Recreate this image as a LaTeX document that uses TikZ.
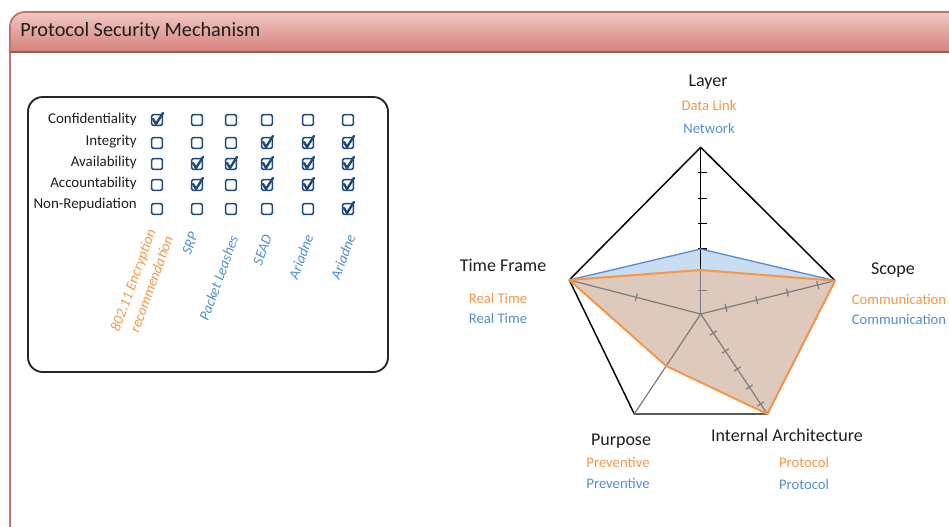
\documentclass[tikz,border=0pt]{standalone}
\usepackage{fontspec}
\setmainfont{Carlito}
\usetikzlibrary{calc}
\definecolor{orng}{RGB}{247,150,70}
\definecolor{bluet}{RGB}{85,142,213}
\definecolor{tanf}{RGB}{221,202,188}
\definecolor{bluef}{RGB}{200,220,242}
\definecolor{navy}{RGB}{31,73,125}
\definecolor{framered}{RGB}{200,110,105}
\definecolor{titletop}{RGB}{240,200,196}
\definecolor{titlebot}{RGB}{214,128,122}
\definecolor{axgray}{RGB}{125,125,125}
\definecolor{txt}{RGB}{30,30,30}
\tikzset{
  axlab/.style={font=\fontsize{13.5}{16}\selectfont, text=txt, inner sep=0pt},
  vallab/.style={font=\fontsize{11}{13}\selectfont, inner sep=0pt},
  rowlab/.style={font=\fontsize{11.2}{13}\selectfont, text=txt, anchor=east, inner sep=0pt},
  collab/.style={font=\fontsize{11}{14}\selectfont\itshape, anchor=east, rotate=70, inner sep=0pt, align=right},
  cbox/.style={draw=navy, line width=1.2pt, rounded corners=1pt, minimum size=8pt, inner sep=0pt},
  chk/.style={draw=navy, line width=1.8pt, line cap=round, line join=round},
  axline/.style={draw=axgray, line width=0.9pt},
  tickm/.style={line width=0.9pt},
}
\begin{document}
\begin{tikzpicture}[x=0.75pt,y=-0.75pt]
\useasboundingbox (0,0) rectangle (949,527);
% outer frame and title bar
\begin{scope}
  \clip[rounded corners=11pt] (10,12) rectangle (975,560);
  \shade[top color=titletop, bottom color=titlebot] (10,12) rectangle (975,52);
\end{scope}
\draw[framered, line width=1.3pt, rounded corners=11pt] (10,12) rectangle (975,560);
\draw[framered!80!black, line width=1pt] (10,52) -- (975,52);
\node[anchor=west, font=\fontsize{15.2}{18}\selectfont, text=txt, inner sep=0pt] (title) at (20,31) {Protocol Security Mechanism};

% left panel
\draw[line width=1.4pt, draw=black!85, rounded corners=11pt] (28,97) rectangle (388,372);
\node[rowlab] (r1) at (137,120) {Confidentiality};
\node[rowlab] (r2) at (137,142) {Integrity};
\node[rowlab] (r3) at (137,163) {Availability};
\node[rowlab] (r4) at (137,184) {Accountability};
\node[rowlab] (r5) at (137,205) {Non-Repudiation};
\foreach \c/\x in {1/157,2/197,3/231,4/267,5/308,6/348}
  \foreach \r/\y in {1/120,2/143,3/164,4/185,5/209}
    \node[cbox] (b\r\c) at (\x,\y) {};
\foreach \n in {b11,b24,b25,b26,b32,b33,b34,b35,b36,b42,b44,b45,b46,b56}
  \draw[chk] ($(\n.center)+(-4,-1)$) -- ($(\n.center)+(-1,4)$) -- ($(\n.center)+(6,-7)$);
\node[collab, text=orng] (c1) at (160,233) {802.11 Encryption\\recommendation};
\node[collab, text=bluet] (c2) at (194,233) {SRP};
\node[collab, text=bluet] (c3) at (234,236) {Packet Leashes};
\node[collab, text=bluet] (c4) at (268,235) {SEAD};
\node[collab, text=bluet] (c5) at (309,235) {Ariadne};
\node[collab, text=bluet] (c6) at (351,235) {Ariadne};

% radar chart
\coordinate (T) at (700.7,147.3);
\coordinate (L) at (569.3,280);
\coordinate (R) at (835,280.7);
\coordinate (BR) at (767.3,414);
\coordinate (BL) at (634.3,414);
\coordinate (C) at (700.7,314);
\coordinate (OT) at (700.7,270);
\coordinate (BT) at (700.7,249);
\coordinate (OBL) at ($(C)!0.52!(BL)$);

\draw[black, line width=1.1pt, line join=round] (T) -- (R) -- (BR) -- (BL) -- (L) -- cycle;
\fill[bluef] (L) -- (BT) -- (R) -- (BR) -- (OBL) -- cycle;
\fill[tanf] (L) -- (OT) -- (R) -- (BR) -- (OBL) -- cycle;

\draw[axline] (C) -- (L);
\draw[axline] (C) -- (R);
\draw[axline] (C) -- (BR);
\draw[axline] (C) -- (BL);
\draw[axline] (C) -- (OT);
\draw[black, line width=1pt] (OT) -- (T);
\foreach \yy in {172.7,198.3,223.3,249}
  \draw[black, tickm] (698,\yy) -- (707,\yy);
\draw[axgray, tickm] (698,290.7) -- (707,290.7);
\foreach \t in {0.188,0.417,0.645,0.871}
  \draw[axgray, tickm] ($(C)!\t!(R)!3pt!90:(R)$) -- ($(C)!\t!(R)!3pt!-90:(R)$);
\foreach \t in {0.19,0.37,0.55,0.73,0.9}
  \draw[axgray, tickm] ($(C)!\t!(BR)!3pt!90:(BR)$) -- ($(C)!\t!(BR)!3pt!-90:(BR)$);
\draw[axgray, tickm] ($(C)!0.49!(L)!3pt!90:(L)$) -- ($(C)!0.49!(L)!3pt!-90:(L)$);

\draw[bluet, line width=1pt, line join=round] (L) -- (BT) -- (R);
\draw[orng, line width=1.5pt, line join=round] (L) -- (OT) -- (R) -- (BR) -- (OBL) -- cycle;

% axis labels
\node[axlab] (layer) at (708,82) {Layer};
\node[vallab, text=orng] (layer1) at (709,105) {Data Link};
\node[vallab, text=bluet] (layer2) at (709,128) {Network};
\node[axlab] (time) at (503,265) {Time Frame};
\node[vallab, text=orng] (time1) at (498,298) {Real Time};
\node[vallab, text=bluet] (time2) at (498,318) {Real Time};
\node[axlab] (scope) at (893,270) {Scope};
\node[vallab, text=orng] (scope1) at (899,299) {Communication};
\node[vallab, text=bluet] (scope2) at (899,319) {Communication};
\node[axlab] (purpose) at (621,441) {Purpose};
\node[vallab, text=orng] (purpose1) at (618,462) {Preventive};
\node[vallab, text=bluet] (purpose2) at (618,483) {Preventive};
\node[axlab] (arch) at (787,435) {Internal Architecture};
\node[vallab, text=orng] (arch1) at (804,462) {Protocol};
\node[vallab, text=bluet] (arch2) at (804,484) {Protocol};
\end{tikzpicture}
\end{document}
